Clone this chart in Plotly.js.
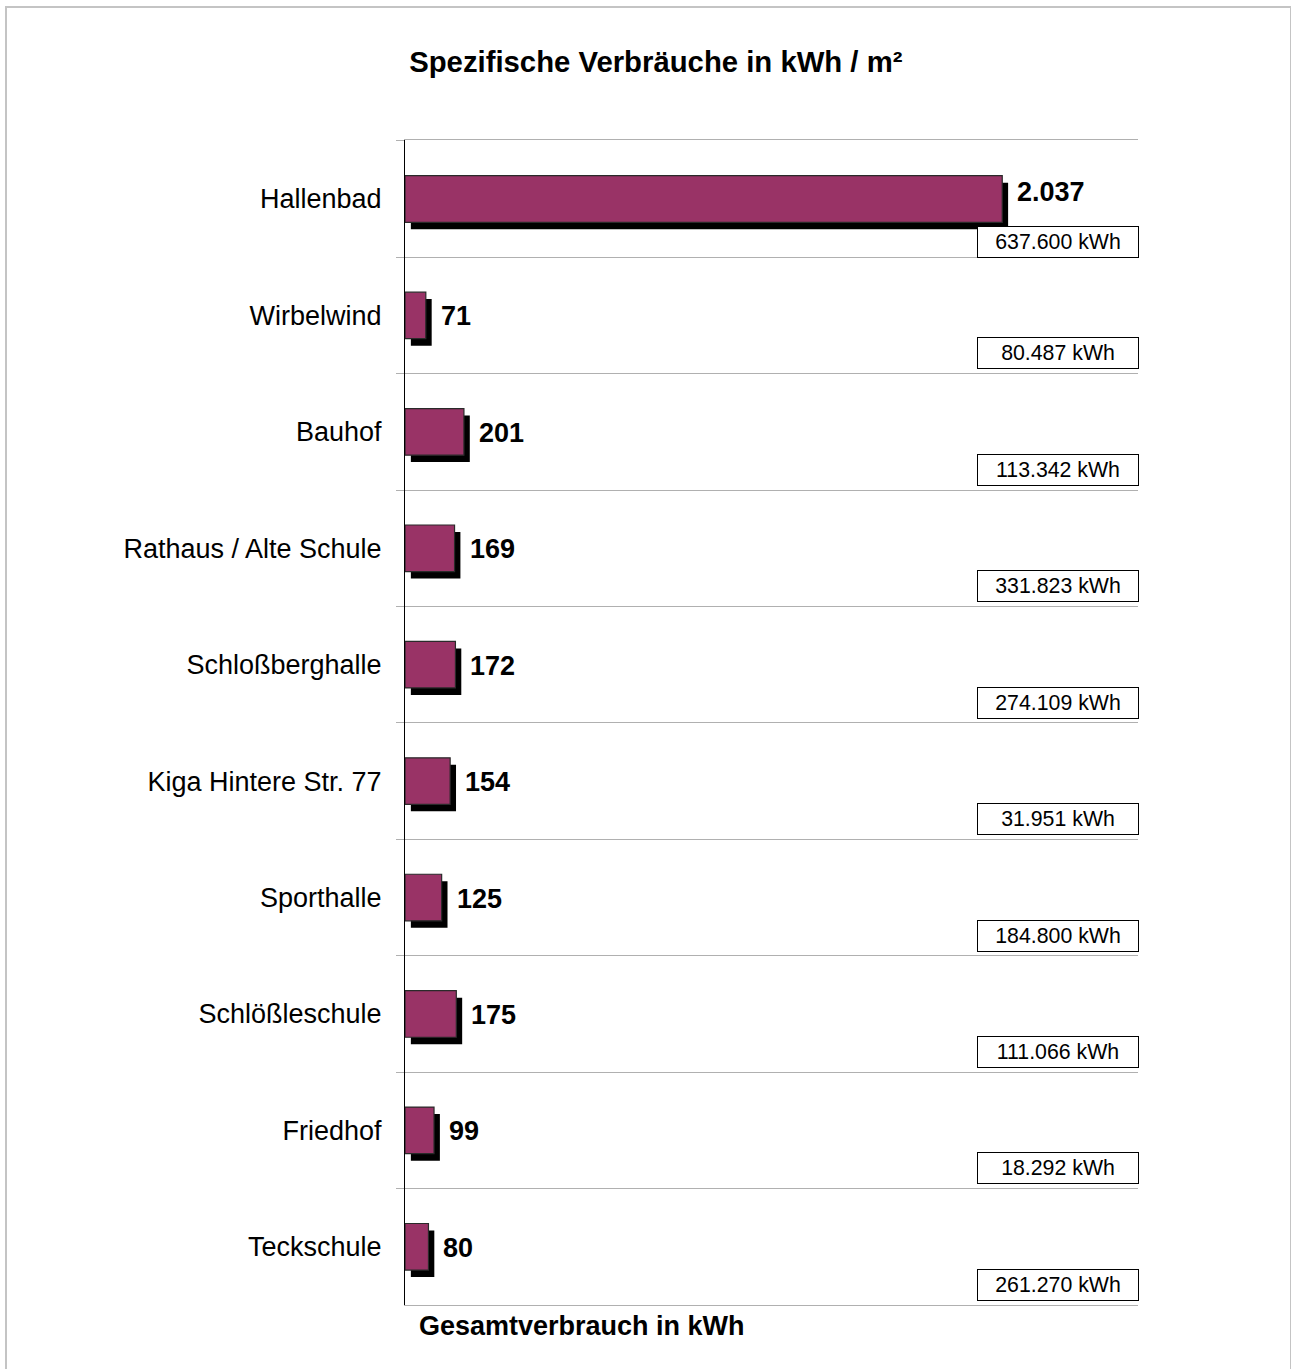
<!DOCTYPE html>
<html>
<head>
<meta charset="utf-8">
<script src="https://cdn.plot.ly/plotly-3.0.1.min.js"></script>
<style>
html,body{margin:0;padding:0;background:#fff;}
#wrap{position:relative;width:1291px;height:1369px;overflow:hidden;}
#chart{position:absolute;left:0;top:0;width:1291px;height:1369px;}
#frame{position:absolute;left:5px;top:6px;width:1283px;height:1400px;border:2px solid #c4c4c4;pointer-events:none;}
</style>
</head>
<body>
<div id="wrap"><div id="chart"></div><div id="frame"></div></div>
<script>
// Data (top to bottom)
const categories = ["Hallenbad","Wirbelwind","Bauhof","Rathaus / Alte Schule","Schloßberghalle","Kiga Hintere Str. 77","Sporthalle","Schlößleschule","Friedhof","Teckschule"];
const specificValues = [2037, 71, 201, 169, 172, 154, 125, 175, 99, 80];   // kWh / m²
const totalConsumption = [637600, 80487, 113342, 331823, 274109, 31951, 184800, 111066, 18292, 261270]; // kWh

function fmtDE(n){ return String(Math.round(n)).replace(/\B(?=(\d{3})+(?!\d))/g, "."); }

const FONT = "Arial, 'Liberation Sans', sans-serif";
const xMax = 2500;
const shadowShift = 20;      // shadow offset along value axis (units)
const barWidth = 0.4;

const shadow = {
  type: "bar", orientation: "h",
  y: categories, x: specificValues,
  base: specificValues.map(() => shadowShift),
  width: barWidth, offset: -barWidth/2 + 0.06,
  marker: {color: "#000000", line: {width: 0}},
  hoverinfo: "skip", showlegend: false
};
const bars = {
  type: "bar", orientation: "h",
  y: categories, x: specificValues,
  width: barWidth, offset: -barWidth/2,
  marker: {color: "#993366", line: {color: "#2a2a2a", width: 1.2}},
  showlegend: false
};

const annotations = [];
categories.forEach((c, i) => {
  annotations.push({
    x: specificValues[i], y: c, xref: "x", yref: "y",
    text: "<b>" + fmtDE(specificValues[i]) + "</b>",
    showarrow: false, xanchor: "left", yanchor: "middle",
    xshift: 13, yshift: i === 0 ? 7 : -1,
    font: {family: FONT, size: 27, color: "#000"}
  });
  annotations.push({
    x: 0.8915, y: c, xref: "paper", yref: "y",
    text: fmtDE(totalConsumption[i]) + " kWh",
    showarrow: false, xanchor: "center", yanchor: "middle",
    yshift: i === 0 ? -43 : -38,
    width: 158, height: 28, borderpad: 1,
    bordercolor: "#000", borderwidth: 1, bgcolor: "#fff",
    font: {family: FONT, size: 21.3, color: "#000"}
  });
});
annotations.push({
  x: 0.0165, y: -0.018, xref: "paper", yref: "paper",
  text: "<b>Gesamtverbrauch in kWh</b>", showarrow: false,
  xanchor: "left", yanchor: "middle",
  font: {family: FONT, size: 27, color: "#000"}
});

const layout = {
  width: 1291, height: 1369,
  paper_bgcolor: "#fff", plot_bgcolor: "#fff",
  margin: {l: 405, r: 153, t: 140, b: 64, pad: 0},
  barmode: "overlay",
  font: {family: FONT, color: "#000"},
  title: {
    text: "<b>Spezifische Verbräuche in kWh / m²</b>",
    x: 0.508, xref: "container", xanchor: "center",
    y: 1 - 62/1369, yref: "container", yanchor: "middle",
    font: {family: FONT, size: 29.3, color: "#000"}
  },
  xaxis: {
    range: [0, xMax], showgrid: false, zeroline: false,
    showline: true, mirror: true, linecolor: "#b0b0b0", linewidth: 1,
    showticklabels: false, ticks: "", fixedrange: true
  },
  yaxis: {
    type: "category", autorange: "reversed",
    tickson: "boundaries", ticks: "outside", ticklen: 8, tickcolor: "#b0b0b0", tickwidth: 1,
    showgrid: true, gridcolor: "#b0b0b0", gridwidth: 1,
    showline: true, linecolor: "#000", linewidth: 1, zeroline: false,
    tickfont: {family: FONT, size: 27, color: "#000"},
    ticklabelstandoff: 17, fixedrange: true
  },
  annotations: annotations
};

Plotly.newPlot("chart", [shadow, bars], layout, {displayModeBar: false, staticPlot: true});
</script>
</body>
</html>
